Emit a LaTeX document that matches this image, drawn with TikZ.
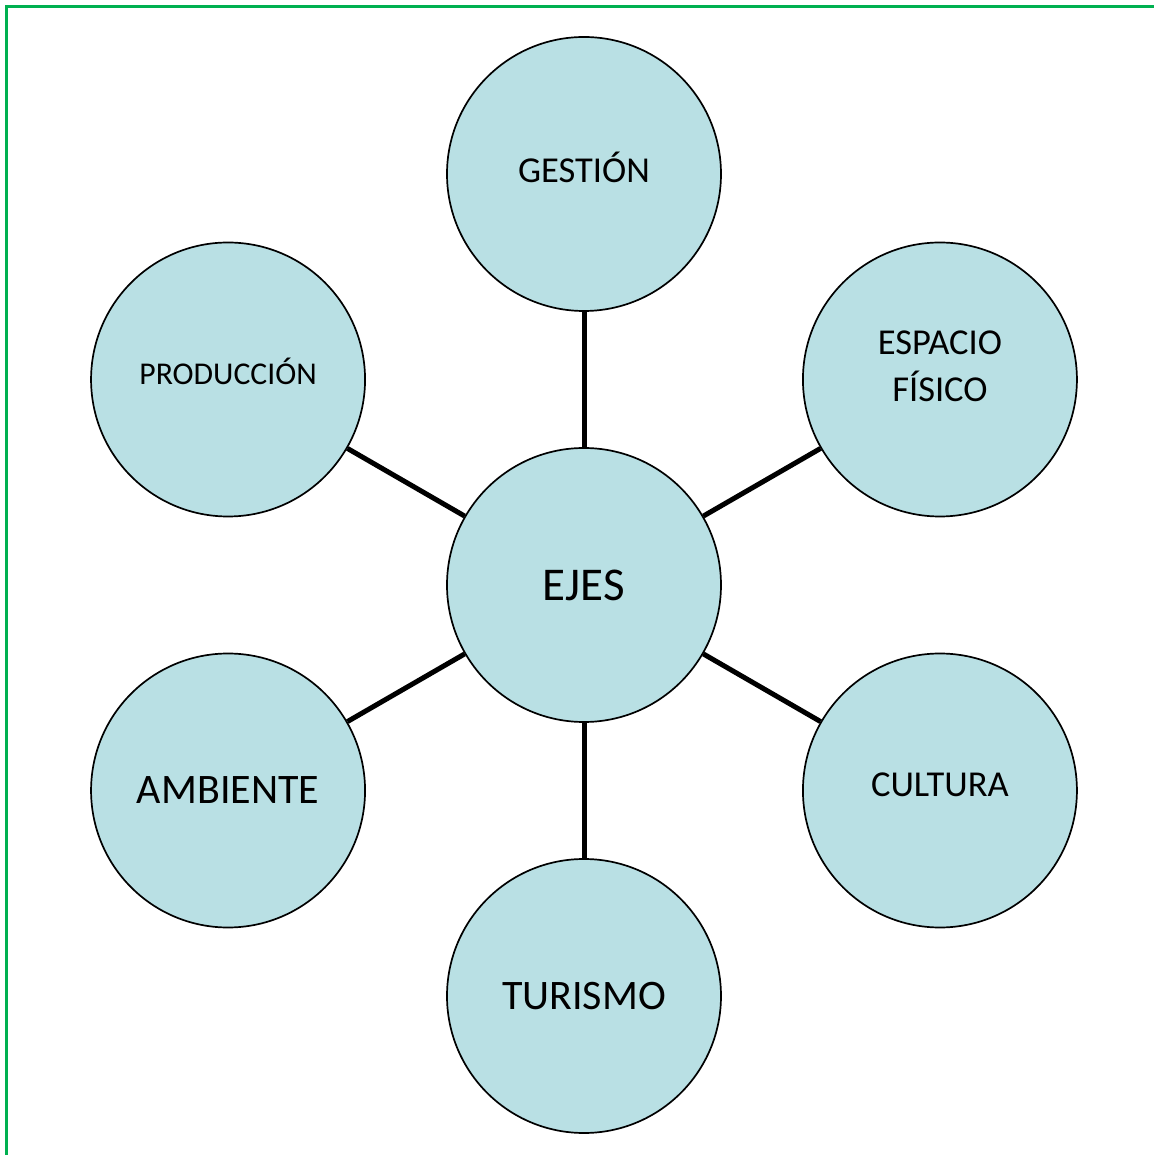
\documentclass[tikz,border=0pt]{standalone}
\usepackage{fontspec}
\setmainfont{Carlito}
\usetikzlibrary{positioning}
\definecolor{lightteal}{RGB}{185,224,228}
\definecolor{framegreen}{RGB}{0,176,80}
\tikzset{eje/.style={circle, draw=black, line width=1.7pt, fill=lightteal, minimum size=274pt, inner sep=0pt, align=center}}

\begin{document}
\begin{tikzpicture}[x=1pt,y=1pt]
\useasboundingbox (-584,-570) rectangle (570,585);
\draw[color=framegreen,line width=3pt] (-577,-570)--(-577,578)--(570,578);

\node(e)[eje,font=\fontsize{47}{56}\selectfont] at (0,0) {EJES};
\node(g)[eje,font=\fontsize{36.5}{47}\selectfont,text depth=14pt] at (90:411) {GESTIÓN};
\node(f)[eje,font=\fontsize{36.5}{47}\selectfont,text depth=26pt] at (30:411) {ESPACIO\\ FÍSICO};
\node(c)[eje,font=\fontsize{36.5}{47}\selectfont,text depth=12pt] at (-30:411) {CULTURA};
\node(t)[eje,font=\fontsize{42}{50}\selectfont] at (-90:411) {TURISMO};
\node(a)[eje,font=\fontsize{42}{50}\selectfont] at (210:411) {AMBIENTE};
\node(p)[eje,font=\fontsize{31.7}{40}\selectfont,text depth=16pt] at (150:411) {PRODUCCIÓN};

\draw[line width=5pt] (e)--(g);
\draw[line width=5pt] (e)--(f);
\draw[line width=5pt] (e)--(c);
\draw[line width=5pt] (e)--(t);
\draw[line width=5pt] (e)--(a);
\draw[line width=5pt] (e)--(p);
\end{tikzpicture}
\end{document}
